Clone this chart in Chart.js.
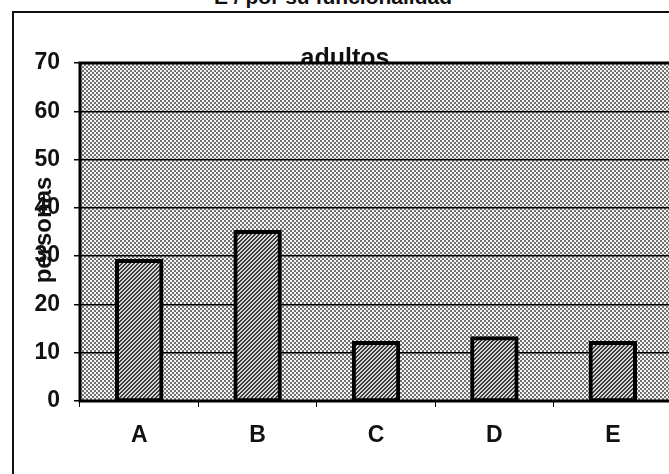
<!DOCTYPE html>
<html>
<head>
<meta charset="utf-8">
<script src="https://cdn.jsdelivr.net/npm/chart.js@4/dist/chart.umd.min.js"></script>
<style>
  html, body { margin: 0; padding: 0; background: #fff; overflow: hidden; width: 669px; height: 474px; }
  #frame { position: absolute; left: 12px; top: 11px; width: 700px; height: 500px;
           border-top: 2px solid #111; border-left: 2px solid #111; }
  #heading { position: absolute; left: 214px; top: -13px; white-space: nowrap;
             font: bold 21px "Liberation Sans", Arial, sans-serif; line-height: 20px; color: #111; }
  #chart { position: absolute; left: 0; top: 0; }
</style>
</head>
<body>
<div id="frame"></div>
<div id="heading">E / por su funcionalidad</div>
<canvas id="chart" width="676" height="474"></canvas>
<script>
// Adults grouped by functionality
const categories = ['A', 'B', 'C', 'D', 'E'];
const adultos = [29, 35, 12, 13, 12];
const yTicks = [0, 10, 20, 30, 40, 50, 60, 70];

const FONT = '"Liberation Sans", Arial, sans-serif';
const ctx = document.getElementById('chart').getContext('2d');

// Small repeating tiles for the halftone look
function makePattern(size, paint) {
  const c = document.createElement('canvas');
  c.width = c.height = size;
  const g = c.getContext('2d');
  paint(g, size);
  return ctx.createPattern(c, 'repeat');
}

// Plot background: 2px checker dots
const plotPattern = makePattern(4, (g) => {
  g.fillStyle = '#f4f4f4';
  g.fillRect(0, 0, 4, 4);
  g.fillStyle = '#727272';
  g.fillRect(0, 0, 2, 2);
  g.fillRect(2, 2, 2, 2);
});

// Bar fill: diagonal "/" hatching
const barPattern = makePattern(4, (g) => {
  for (let x = 0; x < 4; x++) {
    for (let y = 0; y < 4; y++) {
      g.fillStyle = ((x + y) % 4 < 2) ? '#3c3c3c' : '#d6d6d6';
      g.fillRect(x, y, 1, 1);
    }
  }
});

const plotDecor = {
  id: 'plotDecor',
  beforeDraw(chart) {
    const { ctx: c, chartArea: a } = chart;
    c.save();
    // chart title sits on top of the plot frame
    c.fillStyle = '#111';
    c.font = 'bold 25px ' + FONT;
    c.textAlign = 'center';
    c.textBaseline = 'alphabetic';
    c.fillText('adultos', 345, 66);
    // halftone plot area
    c.fillStyle = plotPattern;
    c.fillRect(a.left, a.top, a.right - a.left, a.bottom - a.top);
    c.restore();
  },
  afterDatasetsDraw(chart) {
    const { ctx: c, chartArea: a } = chart;
    c.save();
    c.strokeStyle = '#000';
    c.lineWidth = 3;
    c.strokeRect(a.left, a.top, a.right - a.left, a.bottom - a.top);
    c.restore();
  },
  afterDraw(chart) {
    const { ctx: c, chartArea: a } = chart;
    c.save();
    c.translate(a.left - 36, (a.top + a.bottom) / 2 - 2);
    c.rotate(-Math.PI / 2);
    c.fillStyle = '#111';
    c.font = 'bold 24px ' + FONT;
    c.textAlign = 'center';
    c.textBaseline = 'middle';
    c.fillText('personas', 0, 0);
    c.restore();
  }
};

new Chart(ctx, {
  type: 'bar',
  data: {
    labels: categories,
    datasets: [{
      label: 'adultos',
      data: adultos,
      backgroundColor: barPattern,
      borderColor: '#000',
      borderWidth: 4,
      borderSkipped: false,
      inflateAmount: 2,
      barPercentage: 0.375,
      categoryPercentage: 1.0
    }]
  },
  options: {
    responsive: false,
    animation: false,
    devicePixelRatio: 1,
    layout: { padding: { left: 0, top: 63, right: 4, bottom: 0 } },
    plugins: {
      legend: { display: false },
      title: { display: false },
      tooltip: { enabled: false }
    },
    scales: {
      x: {
        offset: true,
        border: { display: false },
        grid: {
          offset: true,
          drawOnChartArea: false,
          drawTicks: true,
          tickLength: 6,
          color: '#000',
          lineWidth: 1
        },
        ticks: {
          color: '#111',
          padding: 15,
          font: { family: FONT, size: 23, weight: 'bold' }
        },
        afterFit(scale) { scale.height = 73; }
      },
      y: {
        min: 0,
        max: 70,
        afterBuildTicks(scale) { scale.ticks = yTicks.map(v => ({ value: v })); },
        border: { display: false },
        grid: {
          color: '#000',
          lineWidth: 1.5,
          drawTicks: true,
          tickLength: 6
        },
        ticks: {
          color: '#111',
          padding: 14,
          font: { family: FONT, size: 23, weight: 'bold' }
        },
        afterFit(scale) { scale.width = 80; }
      }
    }
  },
  plugins: [plotDecor]
});
</script>
</body>
</html>
